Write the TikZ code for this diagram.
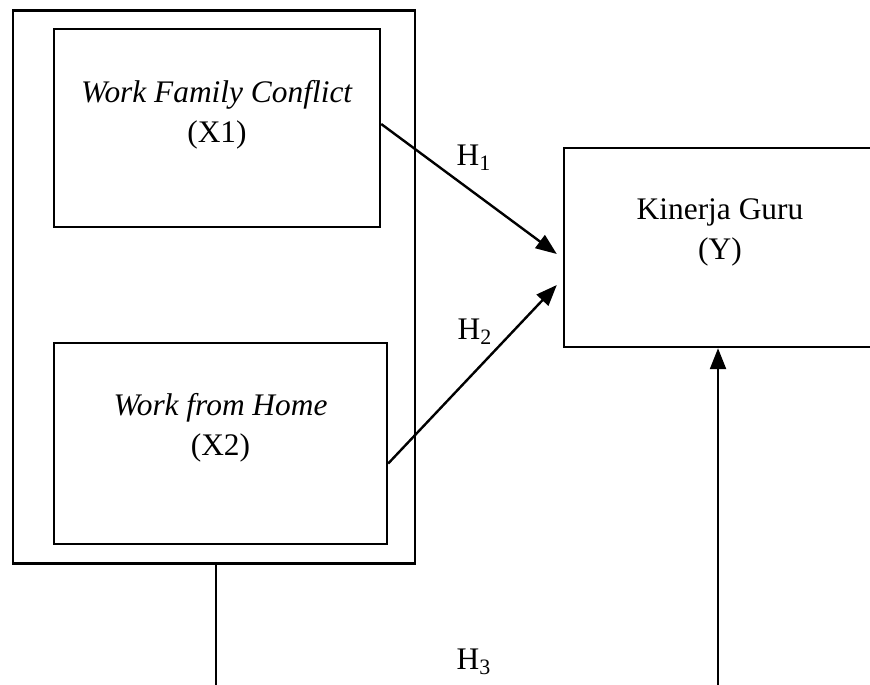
\documentclass[tikz,border=0pt]{standalone}
\usepackage{fontspec}
\setmainfont{Liberation Serif}
\usetikzlibrary{arrows.meta}

\begin{document}
\begin{tikzpicture}[x=0.5pt, y=-0.5pt,
		box/.style={draw, line width=1.2pt, inner sep=0pt},
		lbl/.style={align=center, font=\fontsize{15.7}{20}\selectfont},
		arr/.style={line width=1.2pt, -{Triangle[length=10.5pt, width=8pt]}}]
			\useasboundingbox (0,0) rectangle (870,684);
			\clip (0,0) rectangle (870,684);

			% Outer frame around the independent variables
			\node[box, minimum width=201pt, minimum height=276.5pt] (grp) at (214,287) {};

			% Independent variables
			\node[box, minimum width=163pt, minimum height=99pt] (x1) at (217,128) {};
			\node[lbl] (x1t) at ([yshift=6.5pt]x1.center) {\textit{Work Family Conflict}\\(X1)};

			\node[box, minimum width=166.5pt, minimum height=100.5pt] (x2) at (220.5,443.5) {};
			\node[lbl] (x2t) at ([yshift=8pt]x2.center) {\textit{Work from Home}\\(X2)};

			% Dependent variable
			\node[box, minimum width=156pt, minimum height=99.5pt] (yb) at (720,247.5) {};
			\node[lbl] (ybt) at ([yshift=7.5pt]yb.center) {Kinerja Guru\\(Y)};

			% Hypotheses
			\draw[arr] ([yshift=2pt]x1.east) -- ([xshift=-3pt, yshift=-3.25pt]yb.west);
			\draw[arr] ([yshift=-10pt]x2.east) -- ([xshift=-3pt, yshift=-18.75pt]yb.west);

			\coordinate (d1) at (216,700);
			\coordinate (d2) at (718,700);
			\draw[line width=1.2pt] (d1 |- grp.south) -- (d1);
			\draw[arr] (d2) -- (d2 |- yb.south);

			\node[lbl] (h1) at (474,158) {H\textsubscript{1}};
			\node[lbl] (h2) at (475,332) {H\textsubscript{2}};
			\node[lbl] (h3) at (474,662) {H\textsubscript{3}};
\end{tikzpicture}
\end{document}
